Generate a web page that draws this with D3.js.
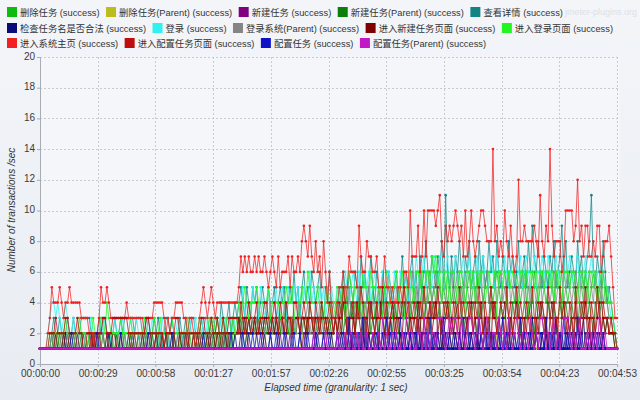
<!DOCTYPE html>
<html><head><meta charset="utf-8">
<script src="https://cdn.jsdelivr.net/npm/d3@7"></script>
<style>
body{margin:0;background:#eef1f6;}
svg{display:block;}
text{font-family:"Liberation Sans",Arial,"Noto Sans CJK SC",sans-serif;}
</style>
</head><body>
<svg id="c" width="640" height="400"></svg>
<script>
const seriesNames = ["删除任务 (success)","删除任务(Parent) (success)","新建任务 (success)","新建任务(Parent) (success)","查看详情 (success)","检查任务名是否合法 (success)","登录 (success)","登录系统(Parent) (success)","进入新建任务页面 (success)","进入登录页面 (success)","进入系统主页 (success)","进入配置任务页面 (success)","配置任务 (success)","配置任务(Parent) (success)"];
const seriesColors = ["#10bb10","#bcbc1c","#800080","#0a800a","#118585","#0a0a78","#2ef2f2","#858585","#800000","#22f522","#f22020","#c00c0c","#1010c4","#c418c4"];
const legendRows = [[0,1,2,3,4],[5,6,7,8,9],[10,11,12,13]];

const xTickLabels = ["00:00:00","00:00:29","00:00:58","00:01:27","00:01:57","00:02:26","00:02:55","00:03:25","00:03:54","00:04:23","00:04:53"];
const yTicks = [0,2,4,6,8,10,12,14,16,18,20];

const delTask = [
1,1,1,1,1,1,2,1,1,2, 1,1,2,1,1,1,2,2,1,1, 1,1,2,1,1,1,1,2,1,1, 1,2,2,1,1,2,1,1,1,2, 1,1,2,1,1,1,2,1,1,1,
2,1,1,1,2,1,1,2,1,1, 1,2,1,1,1,2,1,1,2,1, 1,1,2,1,1,1,2,1,1,2, 1,2,1,1,2,1,1,2,1,2, 2,1,2,2,1,2,2,1,2,2,
2,3,2,3,2,3,3,2,3,2, 3,2,3,3,2,3,2,3,3,2, 3,3,2,3,3,4,2,3,3,2, 3,3,4,2,3,3,2,4,3,3, 2,3,3,4,2,3,3,2,3,3,
3,4,3,3,5,3,4,3,4,3, 4,3,4,5,3,4,3,4,3,5, 3,4,4,3,4,5,3,4,4,3, 4,3,5,4,3,4,4,5,3,4, 5,4,3,4,5,4,6,4,5,4,
5,4,6,5,4,5,4,6,5,4, 5,4,5,6,4,5,4,5,6,4, 5,5,4,6,5,4,5,6,4,5, 4,5,6,5,4,5,5,4,6,5, 5,4,6,5,4,5,6,4,5,5,
4,6,5,4,5,6,5,4,5,6, 5,4,6,5,5,4,6,5,4,5, 6,5,4,5,6,5,4,6,5,4, 5,6,5,4,5,4,6,5,4,3, 3,2,2,1];

const delTaskParent = [
1,1,1,1,1,1,1,1,1,1, 1,1,1,1,1,1,1,1,1,1, 1,1,1,1,1,1,1,1,1,1, 1,1,1,1,1,1,1,1,1,1, 1,1,1,1,1,1,1,1,1,1,
1,1,1,1,1,1,1,1,1,1, 1,1,1,1,1,1,1,1,1,1, 1,1,1,1,1,1,1,1,1,1, 1,1,1,1,1,1,1,1,1,1, 1,1,1,1,1,1,1,1,1,1,
1,1,1,1,1,1,1,1,1,1, 1,1,1,1,2,1,1,1,1,1, 1,1,1,1,1,1,1,1,1,1, 1,1,1,2,1,1,1,1,1,1, 1,1,1,1,1,1,1,1,2,1,
1,1,1,1,1,2,1,1,1,1, 1,1,2,1,1,1,1,1,1,2, 1,1,1,1,1,1,2,1,1,1, 1,2,1,1,1,1,1,1,2,1, 1,1,1,2,1,1,1,1,1,1,
1,1,1,1,1,2,1,1,1,1, 2,1,1,1,1,1,1,2,1,1, 1,1,1,1,2,1,1,1,1,1, 1,1,2,1,1,1,1,1,1,2, 1,1,1,1,1,1,2,1,1,1,
1,2,1,1,1,1,1,1,2,1, 1,1,1,1,2,1,1,1,1,1, 1,1,2,1,1,1,1,2,1,1, 1,1,1,1,1,1,2,1,1,1, 1,1,1,1];

const newTask = [
1,1,1,1,1,1,1,1,1,1, 1,1,1,1,1,1,1,1,1,1, 1,1,1,1,1,1,1,1,1,1, 1,1,1,1,1,1,1,1,1,1, 1,1,1,1,1,1,1,1,1,1,
1,1,1,1,1,1,1,1,1,1, 1,1,1,1,1,1,1,1,1,1, 1,1,1,1,1,1,1,1,1,1, 1,1,1,1,1,1,1,1,1,1, 1,1,1,1,1,1,1,1,1,1,
1,1,1,1,1,2,1,1,1,1, 1,1,1,2,1,1,1,1,1,1, 1,1,2,1,1,1,1,2,1,1, 1,1,1,1,2,1,1,1,1,1, 2,1,1,1,1,1,2,1,1,1,
1,1,2,1,1,2,1,2,2,1, 1,2,1,1,2,1,1,2,1,2, 1,1,2,1,2,1,1,2,1,1, 2,1,1,2,1,2,1,1,2,1, 1,2,1,1,2,2,1,2,1,1,
2,1,2,1,1,2,1,1,2,1, 1,2,1,2,1,1,2,1,1,2, 1,1,2,1,2,1,1,2,1,1, 2,1,1,2,1,1,2,1,2,1, 1,2,1,1,2,1,2,1,1,2,
1,1,2,1,1,2,1,2,1,1, 2,1,1,2,1,2,1,1,2,1, 1,2,1,1,2,1,1,2,1,2, 1,1,2,1,1,2,1,1,1,1, 1,1,1,1];

const newTaskParent = [
1,1,1,1,1,1,1,2,1,1, 2,1,1,1,2,1,1,2,1,1, 1,2,1,1,1,2,1,1,2,1, 1,1,2,1,1,1,2,1,1,2, 1,1,1,2,1,1,2,1,1,1,
2,1,1,2,1,1,1,2,1,1, 2,1,1,1,2,1,1,2,1,1, 1,2,1,1,2,1,1,1,2,1, 2,1,1,2,1,2,1,1,2,1, 2,1,2,1,2,2,1,2,1,2,
2,2,3,2,1,2,3,2,2,3, 2,3,2,2,3,2,2,3,2,2, 3,2,2,3,2,3,2,2,3,2, 2,3,2,3,3,2,3,2,2,3, 3,2,3,2,2,3,2,3,2,2,
3,2,3,4,2,3,3,2,4,3, 2,3,4,3,2,3,3,4,2,3, 3,4,2,3,3,2,4,3,3,2, 4,3,2,3,4,3,3,2,4,3, 3,4,3,2,4,3,4,3,2,4,
3,4,3,4,2,3,4,3,4,3, 2,4,3,3,4,2,3,4,3,3, 4,3,2,4,3,4,3,3,2,4, 3,4,3,2,4,3,3,4,3,2, 4,3,3,4,2,3,4,3,3,4,
3,2,4,3,3,4,3,2,4,3, 3,4,2,3,4,3,3,4,3,2, 4,3,3,2,4,3,4,3,3,4, 3,2,4,3,3,4,3,2,3,2, 2,2,1,1];

const viewDetail = [
1,1,1,1,1,1,2,3,2,2, 3,2,1,2,3,2,2,3,2,1, 2,3,3,3,3,3,2,1,2,2, 3,2,3,3,2,2,1,2,3,2, 2,3,2,3,3,3,3,3,2,3,
3,3,2,1,2,3,2,2,3,2, 3,2,1,2,3,3,2,3,2,1, 2,3,2,2,3,1,2,3,3,2, 1,2,3,2,3,3,2,3,2,3, 3,2,4,3,2,3,4,2,3,4,
3,4,5,4,3,5,4,3,5,4, 5,3,4,5,4,3,5,4,4,5, 3,4,5,4,5,3,4,5,4,6, 4,5,3,5,6,4,5,4,6,5, 4,5,6,4,3,5,4,6,3,4,
4,3,5,4,6,5,4,6,5,4, 6,5,4,7,5,6,4,5,7,5, 4,6,5,3,6,5,4,6,5,4, 5,6,4,5,7,5,6,4,6,7, 5,6,4,7,5,6,8,6,5,7,
6,5,7,6,8,5,11,6,5,7, 5,7,6,8,6,5,7,6,8,5, 6,7,5,8,6,7,5,6,8,6, 7,5,8,6,5,7,6,5,8,6, 7,5,6,8,5,6,7,5,8,6,
9,7,6,8,6,5,7,6,5,7, 6,8,5,6,7,9,6,8,5,6, 7,6,5,8,6,7,5,6,7,8, 11,6,5,7,6,5,8,6,4,5, 4,3,2,1];

const checkName = [
1,1,1,1,1,1,1,1,1,1, 1,1,1,2,1,1,1,1,1,1, 1,1,1,1,1,1,2,1,1,1, 1,1,1,1,1,2,1,1,1,1, 1,1,1,1,1,1,1,2,1,1,
1,1,1,1,1,1,1,1,1,2, 1,1,1,1,1,1,1,1,1,1, 1,1,1,2,1,1,1,1,1,1, 1,1,1,1,1,1,2,1,1,1, 1,1,1,1,2,1,1,1,1,2,
1,1,2,1,1,1,2,1,1,1, 2,1,1,1,2,1,1,2,1,1, 1,2,1,1,1,2,1,1,2,1, 1,1,2,1,1,2,1,1,1,2, 1,2,1,1,2,1,1,1,2,1,
1,2,1,2,1,1,3,1,2,1, 2,1,1,2,1,3,1,2,1,1, 2,1,2,1,1,2,1,1,3,1, 1,2,1,2,1,1,2,1,2,1, 2,1,3,1,2,1,1,2,1,2,
1,2,1,1,3,1,2,1,2,1, 1,2,1,2,1,1,2,3,1,2, 1,1,2,1,2,1,3,1,1,2, 1,2,1,1,2,1,2,1,3,1, 2,1,1,2,1,2,1,1,2,1,
3,1,2,1,1,2,1,2,1,1, 2,1,3,1,2,1,1,2,1,2, 1,1,2,1,2,1,3,1,1,2, 1,2,1,1,2,1,2,1,1,1, 1,1,1,1];

const login = [
1,1,1,1,2,3,4,4,3,4, 3,2,3,4,3,2,2,3,2,1, 2,2,1,2,2,2,3,2,1,2, 2,3,2,3,2,1,2,2,3,2, 2,2,3,2,1,2,3,2,2,3,
2,1,2,2,3,2,2,3,2,2, 1,2,3,2,2,1,2,3,2,2, 3,2,2,1,2,2,3,2,2,3, 2,2,3,2,1,3,2,3,2,2, 3,2,3,2,3,2,3,3,2,3,
3,4,3,5,3,4,4,3,5,4, 4,3,5,4,3,4,5,3,4,4, 5,3,4,5,4,3,5,4,4,5, 4,5,3,4,5,4,4,6,4,5, 3,4,5,4,5,3,4,4,5,4,
4,5,4,5,4,6,5,4,5,6, 5,4,6,5,4,6,5,6,4,5, 6,5,4,5,6,4,5,6,5,4, 6,5,4,6,5,5,6,4,5,6, 5,7,6,5,6,7,5,6,6,5,
7,6,5,7,6,5,6,7,5,6, 6,7,5,6,6,7,5,6,7,6, 5,6,7,6,5,7,6,6,5,7, 6,5,7,6,6,5,7,6,5,6, 7,6,5,6,7,5,6,7,6,5,
6,7,5,6,6,7,6,5,7,6, 5,6,7,6,5,6,7,5,6,7, 6,5,6,7,5,6,6,7,5,6, 7,6,5,6,5,7,6,5,5,4, 3,3,2,1];

const loginSys = [
1,1,1,1,1,1,2,1,2,1, 1,2,1,1,2,1,1,1,2,1, 1,1,2,1,1,2,1,1,1,2, 1,1,2,1,2,1,1,1,2,1, 2,1,1,2,1,1,1,2,1,1,
1,2,1,1,2,1,2,1,1,2, 1,1,2,1,1,2,1,1,2,1, 2,1,1,2,1,2,1,1,2,1, 1,2,1,2,1,1,2,1,2,2, 1,2,2,1,2,2,1,2,3,2,
2,3,2,3,2,2,3,2,3,2, 3,2,2,3,2,3,2,4,2,3, 2,3,3,2,4,2,3,2,3,3, 2,4,3,2,3,3,4,2,3,2, 3,2,4,3,2,3,2,3,4,2,
3,4,2,3,4,3,2,5,3,4, 3,4,5,3,4,2,4,5,3,4, 4,3,5,4,3,4,4,3,5,4, 3,5,4,4,3,5,4,3,4,6, 4,5,3,6,4,5,4,5,6,4,
5,6,4,5,4,6,5,4,5,6, 4,5,6,4,5,4,6,5,4,5, 6,4,5,5,6,4,5,6,4,5, 5,6,4,5,6,4,5,5,6,4, 5,6,4,5,5,6,4,6,5,4,
6,5,4,5,6,4,5,6,5,4, 5,6,4,5,5,6,4,5,6,5, 4,5,6,5,4,6,5,4,5,6, 5,4,6,5,4,5,4,5,4,3, 3,2,2,1];

const enterNewTask = [
1,1,1,1,1,1,1,1,2,1, 1,1,2,1,1,2,1,1,1,2, 1,1,2,2,1,1,1,2,1,1, 2,1,1,1,2,1,1,2,2,1, 1,2,1,1,1,2,1,1,2,1,
1,1,2,1,1,2,2,1,1,2, 1,1,2,1,2,1,1,1,2,1, 1,2,1,1,2,2,1,1,2,1, 2,1,2,1,1,2,1,2,2,1, 2,2,1,2,2,1,2,2,2,2,
2,3,2,2,3,2,3,2,2,3, 2,2,3,2,3,3,2,2,3,2, 3,2,3,3,2,2,3,3,2,3, 3,3,2,3,3,2,3,3,3,2, 3,3,2,3,3,3,2,3,3,2,
3,2,3,2,4,3,2,3,1,3, 2,4,3,2,3,1,3,2,4,3, 2,3,1,4,3,2,3,2,3,4, 2,3,3,1,2,4,3,2,3,2, 3,2,4,3,1,3,2,3,4,2,
3,4,2,3,1,2,3,4,2,3, 2,3,4,2,3,1,2,3,3,4, 2,3,1,3,4,2,3,2,3,1, 4,3,2,3,2,3,4,2,1,3, 2,3,4,2,3,1,3,2,4,3,
2,1,3,2,4,3,2,3,1,3, 4,2,3,2,1,3,4,2,3,2, 3,1,4,2,3,2,3,4,2,3, 1,3,2,3,4,2,3,2,3,2, 2,2,1,1];

const enterLogin = [
1,1,1,1,1,2,2,2,2,2, 2,2,2,3,2,2,2,2,2,2, 3,2,2,2,1,2,2,3,2,2, 2,3,3,2,4,3,2,2,2,2, 2,3,2,2,2,2,3,2,2,2,
2,2,2,3,2,2,2,2,3,2, 2,3,2,2,2,2,2,3,2,2, 2,2,2,2,2,3,2,2,2,2, 2,3,2,2,2,2,3,2,3,2, 3,2,2,3,2,3,3,2,3,2,
3,4,3,4,5,4,3,4,4,4, 5,4,3,4,4,4,5,3,4,4, 4,4,3,4,4,5,4,4,5,3, 4,4,4,5,4,4,6,5,4,4, 4,5,4,4,3,4,5,3,4,4,
3,5,5,4,5,3,5,6,5,4, 5,5,3,4,6,5,5,4,6,5, 5,4,5,5,3,5,6,5,4,5, 5,6,4,5,6,3,5,5,6,5, 4,6,6,5,6,4,6,6,5,7,
6,7,5,6,4,6,5,6,3,6, 6,5,4,6,6,5,3,6,6,5, 6,4,6,5,6,6,4,5,6,5, 5,6,3,6,6,5,6,4,6,5, 6,6,5,4,6,6,5,6,3,6,
6,5,6,4,6,6,5,6,6,5, 6,4,6,5,6,3,6,6,6,5, 6,6,5,4,6,6,5,6,4,6, 6,5,6,4,5,6,6,4,5,4, 4,3,2,1];

const enterHome = [
1,1,1,1,2,3,5,4,4,4, 5,4,3,4,4,5,4,4,4,4, 4,3,3,3,3,2,1,2,1,2, 3,5,4,4,5,4,3,3,3,3, 3,3,3,3,4,3,3,3,3,3,
3,3,3,2,3,3,3,3,4,4, 4,4,4,3,2,3,2,3,3,4, 4,4,4,3,3,2,3,3,2,1, 2,3,4,5,4,3,4,5,4,3, 4,4,4,4,4,4,4,4,4,4,
4,5,7,6,7,6,7,6,6,7, 6,7,6,6,7,6,5,6,7,6, 5,7,5,6,6,6,7,5,7,6, 6,7,6,8,9,8,7,9,7,6, 8,6,7,5,8,6,4,6,4,3,
3,4,5,5,6,4,5,7,6,6, 6,5,9,7,6,6,8,7,7,6, 6,7,5,5,5,7,5,5,4,5, 4,4,5,5,4,6,6,5,10,7, 7,7,9,6,7,10,7,10,10,10,
10,9,10,11,8,7,9,8,9,8, 9,10,9,8,9,7,10,7,8,10, 8,7,8,9,10,10,9,8,8,8, 14,8,9,7,8,7,10,8,7,9, 7,6,7,12,8,8,9,8,8,8,
8,9,8,7,11,8,7,9,8,14, 9,7,8,8,8,6,7,10,10,10, 10,8,9,12,8,9,7,9,9,7, 7,8,7,9,9,6,7,8,8,9, 7,5,3,3];

const enterConfig = [
1,1,1,1,1,2,2,2,3,2, 2,2,2,3,3,2,2,2,2,3, 2,2,1,1,2,2,2,1,2,2, 2,2,3,3,2,2,2,3,3,3, 3,3,3,3,3,2,2,2,2,2,
2,2,2,2,3,3,2,2,2,2, 2,2,2,1,2,2,2,2,2,3, 3,2,2,2,2,1,2,2,2,2, 2,2,3,3,2,2,2,3,2,2, 3,2,2,3,2,2,3,3,3,3,
3,2,4,3,2,3,4,3,2,3, 4,2,3,3,4,4,3,2,3,4, 3,2,4,3,2,4,3,3,2,4, 4,3,2,3,4,3,2,4,3,2, 4,3,2,4,3,2,3,4,3,2,
3,2,4,3,5,4,2,3,3,4, 2,4,3,5,4,3,2,4,4,3, 2,4,3,3,5,3,4,2,3,4, 3,2,4,3,4,5,3,4,2,3, 4,3,2,4,3,5,3,2,4,3,
4,3,5,3,2,4,3,4,3,2, 4,3,2,5,3,4,3,2,4,3, 2,4,3,5,3,2,4,3,3,5, 3,4,2,3,4,3,2,5,3,4, 2,3,5,3,4,3,2,4,3,2,
5,3,2,4,3,4,3,2,5,3, 2,4,3,2,5,3,4,3,2,4, 3,2,5,3,2,4,3,5,3,2, 4,3,2,5,3,2,4,3,3,2, 3,2,2,1];

const configTask = [
1,1,1,1,1,1,1,1,1,1, 1,1,1,1,1,1,2,1,1,1, 1,1,1,1,1,1,1,1,1,2, 1,1,1,1,1,1,1,1,1,1, 1,2,1,1,1,1,1,1,1,1,
1,1,1,1,1,2,1,1,1,1, 1,1,1,1,1,1,1,2,1,1, 1,1,1,1,1,1,1,1,1,1, 1,1,1,2,1,1,1,1,1,1, 1,1,1,1,1,1,1,2,1,1,
1,1,1,2,1,1,1,1,2,1, 1,1,2,1,1,1,1,2,1,1, 2,1,1,1,2,1,1,1,1,2, 1,1,2,1,1,1,2,1,1,1, 2,1,1,1,2,1,1,2,1,1,
1,2,1,1,2,1,1,3,1,2, 1,1,2,1,3,1,2,1,1,2, 1,2,1,1,2,1,3,1,2,1, 2,1,1,3,1,2,1,1,2,1, 1,2,1,2,1,1,2,1,3,1,
2,1,2,1,1,3,1,2,1,1, 2,1,1,2,1,3,1,1,2,1, 1,2,1,3,1,1,2,1,2,1, 2,1,1,2,1,3,1,2,1,1, 1,2,1,1,3,1,2,1,1,2,
1,1,2,1,2,1,1,3,1,2, 1,2,1,1,2,1,3,1,2,1, 2,1,1,3,1,2,1,1,2,1, 1,2,1,2,1,1,2,1,1,1, 1,1,1,1];

const configTaskParent = [
1,1,1,1,1,1,1,1,1,1, 1,1,1,1,1,1,1,1,1,1, 1,1,1,1,1,1,1,1,1,1, 1,1,1,1,1,1,1,1,1,1, 1,1,1,1,1,1,1,1,1,1,
1,1,1,1,1,1,1,1,1,1, 1,1,1,1,1,1,1,1,1,1, 1,1,1,1,1,1,1,1,1,1, 1,1,1,1,1,1,1,1,1,1, 1,1,1,1,1,1,1,1,1,1,
1,1,1,1,1,1,1,1,1,1, 1,1,1,1,1,1,1,1,1,1, 1,1,1,1,1,1,1,1,1,1, 1,1,1,1,1,1,1,1,1,2, 1,1,1,1,1,2,1,1,1,1,
1,2,1,1,1,2,1,1,2,1, 1,2,1,2,1,1,2,1,1,2, 1,1,2,1,3,1,2,1,1,2, 1,2,1,1,2,1,3,2,1,2, 1,1,2,2,1,3,1,2,1,2,
2,1,3,3,3,2,1,2,3,2, 3,3,2,1,3,2,1,2,3,3, 2,1,2,3,2,1,2,3,2,1, 2,2,1,3,2,1,2,1,3,2, 1,2,3,2,1,2,1,2,1,3,
2,1,2,1,3,3,2,1,2,1, 2,3,1,2,1,2,3,3,3,2, 1,2,1,2,3,1,1,1,2,1, 2,1,2,1,3,2,1,2,1,1, 1,1,1,1];

const seriesValues = [delTask,delTaskParent,newTask,newTaskParent,viewDetail,checkName,login,loginSys,enterNewTask,enterLogin,enterHome,enterConfig,configTask,configTaskParent];

const W = 640, H = 400;
const svg = d3.select("#c");
const defs = svg.append("defs");
const gr = defs.append("linearGradient").attr("id","bg").attr("x1",0).attr("y1",0).attr("x2",0).attr("y2",1);
gr.append("stop").attr("offset","0%").attr("stop-color","#f3f5f9");
gr.append("stop").attr("offset","100%").attr("stop-color","#e8ecf2");
svg.append("rect").attr("width",W).attr("height",H).attr("fill","url(#bg)");

const tMax = 293;
const x = d3.scaleLinear().domain([0, tMax]).range([40, 617]);
const y = d3.scaleLinear().domain([0, 20]).range([364, 57]);
const xTickValues = xTickLabels.map((d,i) => i * tMax / (xTickLabels.length - 1));

svg.append("rect").attr("x",40).attr("y",57).attr("width",580).attr("height",307).attr("fill","#f4f6fa");

// watermark
svg.append("text").attr("x",637).attr("y",15).attr("text-anchor","end")
  .style("font-size","9px").attr("fill","#dde0e6").text("jmeter-plugins.org");

// grid
const grid = svg.append("g").attr("stroke","#c6cad2").attr("stroke-width",1).attr("stroke-dasharray","2,2");
grid.selectAll(".h").data(yTicks.slice(1)).join("line")
  .attr("x1",40).attr("x2",620).attr("y1",d=>Math.round(y(d))+0.5).attr("y2",d=>Math.round(y(d))+0.5);
grid.selectAll(".v").data(xTickValues.slice(1)).join("line")
  .attr("y1",57).attr("y2",364).attr("x1",d=>Math.round(x(d))+0.5).attr("x2",d=>Math.round(x(d))+0.5);

// axes
const yAxis = svg.append("g").attr("transform","translate(40,0)")
  .call(d3.axisLeft(y).tickValues(yTicks).tickSize(3).tickPadding(2));
const xAxis = svg.append("g").attr("transform","translate(0,364)")
  .call(d3.axisBottom(x).tickValues(xTickValues).tickFormat((d,i)=>xTickLabels[i]).tickSize(3).tickPadding(3));
[yAxis,xAxis].forEach(a=>{
  a.select(".domain").attr("stroke","#a8acb4");
  a.selectAll(".tick line").attr("stroke","#a8acb4");
  a.selectAll("text").attr("fill","#3a3a3a").style("font-size","10px").style("font-family",'"Liberation Sans",Arial,sans-serif');
});
yAxis.selectAll(".tick text").attr("dy","0.2em");

// lines
const line = d3.line().x((d,i)=>x(i)).y(d=>y(d));
const plot = svg.append("g");
seriesValues.forEach((vals,si)=>{
  const g = plot.append("g");
  g.append("path").datum(vals).attr("d",line).attr("fill","none")
    .attr("stroke",seriesColors[si]).attr("stroke-width",1).attr("stroke-opacity",0.75);
  g.selectAll("circle").data(vals).join("circle")
    .attr("cx",(d,i)=>x(i)).attr("cy",d=>y(d)).attr("r",1.3).attr("fill",seriesColors[si]);
});

// axis titles
svg.append("text").attr("x",336).attr("y",391).attr("text-anchor","middle")
  .style("font-size","10px").style("font-style","italic").attr("fill","#333")
  .text("Elapsed time (granularity: 1 sec)");
svg.append("text").attr("transform","translate(15,210) rotate(-90)").attr("text-anchor","middle")
  .style("font-size","10px").style("font-style","italic").attr("fill","#333")
  .text("Number of transactions /sec");

// legend
const rowY = [12, 28, 43];
legendRows.forEach((row,ri)=>{
  let cx = 7;
  row.forEach(si=>{
    svg.append("rect").attr("x",cx).attr("y",rowY[ri]-5).attr("width",10).attr("height",10).attr("fill",seriesColors[si]);
    const t = svg.append("text").attr("x",cx+13).attr("y",rowY[ri]+3.5)
      .style("font-size","9.3px").attr("fill","#333").text(seriesNames[si]);
    cx += 13 + t.node().getComputedTextLength() + 6.5;
  });
});
</script>
</body></html>
